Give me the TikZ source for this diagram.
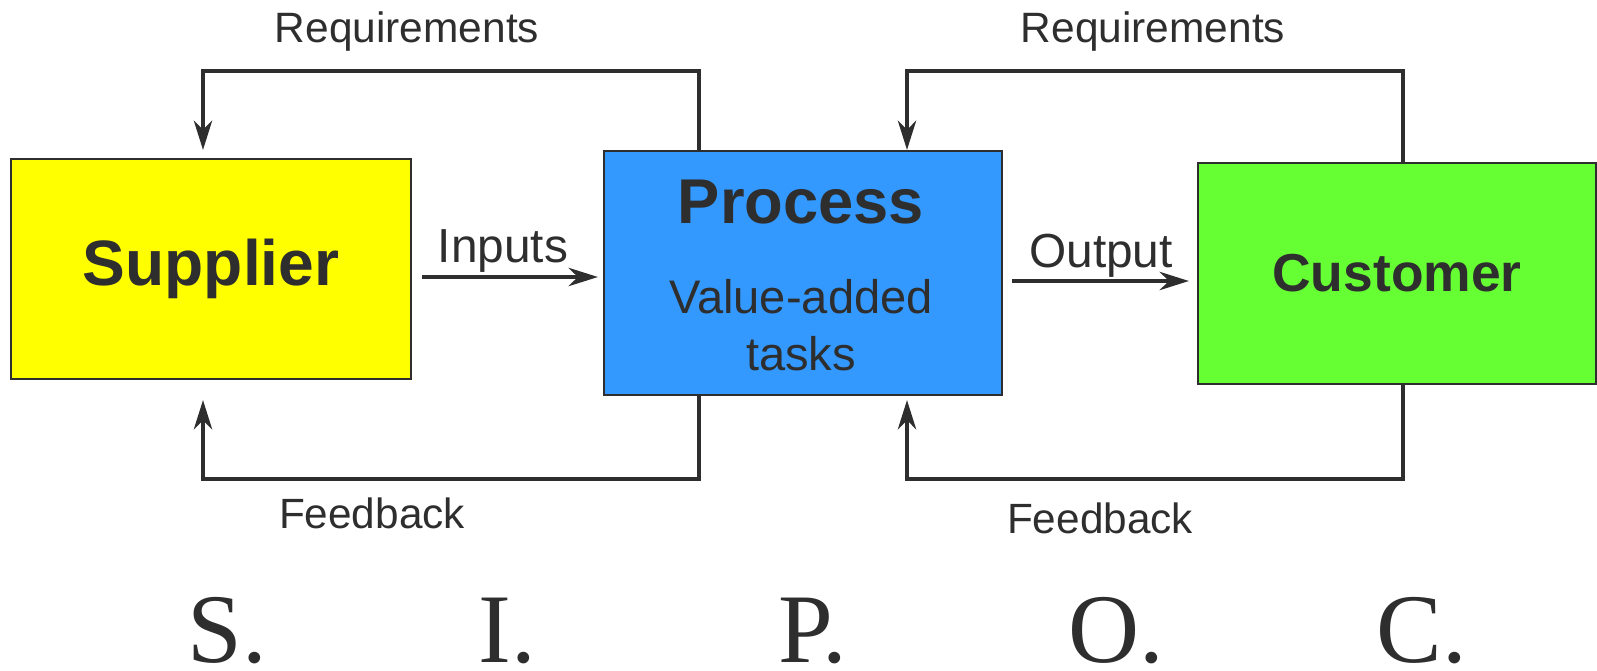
\documentclass[tikz,border=0pt]{standalone}
\usepackage{fontspec}
\setmainfont{Liberation Serif}
\setsansfont{Liberation Sans}
\usepackage{tikz}
\usetikzlibrary{arrows.meta, positioning, calc}
\definecolor{sipoc_yellow}{HTML}{FFFF00}
\definecolor{sipoc_blue}{HTML}{3399FF}
\definecolor{sipoc_green}{HTML}{66FF33}
\definecolor{sipoc_dark}{HTML}{2E2E2E}

\begin{document}
\begin{tikzpicture}[
        x=0.25mm, y=-0.25mm,
        box/.style={rectangle, draw=sipoc_dark, line width=0.5mm, inner sep=0pt, outer sep=0pt, text=sipoc_dark},
        boxfont/.style={font=\sffamily\bfseries\fontsize{#1}{#1}\selectfont},
        lbl/.style={anchor=base, inner sep=0pt, text=sipoc_dark, font=\sffamily\fontsize{#1}{#1}\selectfont},
        letter/.style={anchor=base, inner sep=0pt, text=sipoc_dark, font=\rmfamily\fontsize{70}{70}\selectfont},
        conn/.style={-{Stealth[length=7.25mm, width=4.5mm, inset=2.2mm]}, line width=1.2mm, draw=sipoc_dark},
    ]
        \useasboundingbox (0,0) rectangle (1597,671);

        % Boxes
        \node[box, fill=sipoc_yellow, minimum width=100mm, minimum height=55mm, boxfont=45.6] (sup) at (211,269) {Supplier};
        \node[box, fill=sipoc_blue, minimum width=99.5mm, minimum height=61mm] (proc) at (803,273) {};
        \node[box, fill=sipoc_green, minimum width=99.5mm, minimum height=55.25mm, boxfont=38] (cust) at (1397,273.5) {Customer};

        % Process text
        \node[lbl=45, font=\sffamily\bfseries\fontsize{45}{45}\selectfont] (proctitle) at (801,224) {Process};
        \node[lbl=33.5] (proctask1) at (801,313) {Value-added};
        \node[lbl=33.5] (proctask2) at (801,370) {tasks};

        % Inputs / Output
        \draw[conn] ($(sup.east)+(11,8)$) -- ($(proc.west)+(-6,4)$);
        \node[lbl=34] (inp) at (503,263) {Inputs};
        \draw[conn] ($(proc.east)+(10,8)$) -- ($(cust.west)+(-9,7.5)$);
        \node[lbl=34] (outp) at (1101,267) {Output};

        % Requirements
        \draw[conn] ([xshift=-26mm]proc.north) -- ++(0,-80) -| ([xshift=-2mm, yshift=2.25mm]sup.north);
        \draw[conn] ([xshift=1.5mm]cust.north) -- ++(0,-92) -| ([xshift=26mm, yshift=0.25mm]proc.north);
        \node[lbl=30.2] (req1) at (407,43) {Requirements};
        \node[lbl=30.2] (req2) at (1153,43) {Requirements};

        % Feedback
        \draw[conn] ([xshift=-26mm]proc.south) -- ++(0,84) -| ([xshift=-2mm, yshift=-5.25mm]sup.south);
        \draw[conn] ([xshift=1.5mm]cust.south) -- ++(0,95) -| ([xshift=26mm, yshift=-1.25mm]proc.south);
        \node[lbl=30.1] (fb1) at (372,528) {Feedback};
        \node[lbl=30.1] (fb2) at (1100,533) {Feedback};

        % SIPOC
        \node[letter] (ls) at (227,662) {S.};
        \node[letter] (li) at (507,662) {I.};
        \node[letter] (lp) at (813,662) {P.};
        \node[letter] (lo) at (1116,662) {O.};
        \node[letter] (lc) at (1422,662) {C.};
\end{tikzpicture}
\end{document}
